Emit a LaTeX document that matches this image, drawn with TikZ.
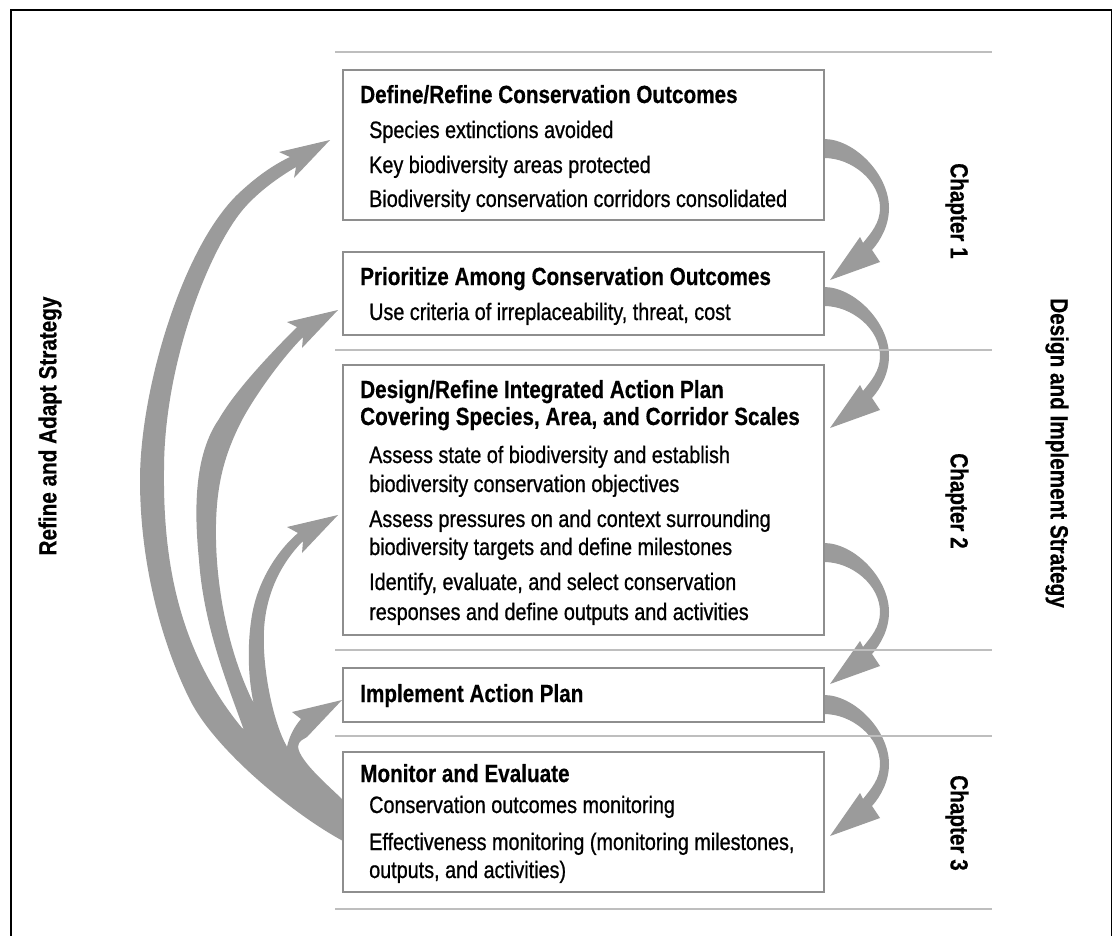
\documentclass[tikz,border=0pt]{standalone}
\usepackage{fontspec}
\setmainfont{Liberation Sans}[FakeStretch=0.835,
  UprightFeatures={FakeBold=0.8}, BoldFeatures={FakeBold=0.5}]
\usetikzlibrary{calc,backgrounds}

\definecolor{arrowgray}{HTML}{9B9B9B}
\definecolor{boxgray}{HTML}{8E8E8E}
\definecolor{rulegray}{HTML}{BEBEBE}

\tikzset{
  stage/.style={draw=boxgray, line width=1.3pt, fill=white, inner sep=0pt,
    outer sep=0pt, anchor=north west, minimum width=481pt},
  head/.style={anchor=base west, inner sep=0pt,
    font=\fontsize{24.8}{29}\selectfont\bfseries},
  item/.style={anchor=base west, inner sep=0pt,
    font=\fontsize{23.7}{28}\selectfont},
  sidelabel/.style={inner sep=0pt, font=\fontsize{24.8}{29}\selectfont\bfseries},
  divider/.style={draw=rulegray, line width=1.3pt},
  % tapered loop arrow leading from one stage down to the next
  chapterarrow/.pic={
    \fill[arrowgray] (0,0) .. controls (30,0) and (65,35) .. (65,69)
      .. controls (65,86) and (57,101) .. (48,111)
      -- (56,123) -- (6,141) -- (36,98) -- (39,104)
      .. controls (47,94) and (56,84) .. (56,69)
      .. controls (56,42) and (28,19) .. (0,19) -- cycle;
  }
}

\begin{document}
\begin{tikzpicture}[x=1pt, y=-1pt]
\useasboundingbox (0,0) rectangle (1113,935);

% outer frame
\draw[line width=1.3pt] (11,940) -- (11,10) -- (1111.5,10) -- (1111.5,940);

% dividers between chapter bands
\foreach \yy in {52,350,650,736,909}
  \draw[divider] (335,\yy) -- (992,\yy);

% stages
\node[stage, minimum height=150pt] (b1) at (343,70) {};
\node[stage, minimum height=83pt]  (b2) at (343,252) {};
\node[stage, minimum height=270pt] (b3) at (343,365) {};
\node[stage, minimum height=54pt]  (b4) at (343,668) {};
\node[stage, minimum height=140pt] (b5) at (343,752) {};

% stage texts
\node[head] (t1)  at (360,103) {Define/Refine Conservation Outcomes};
\node[item] (t1a) at (369,138) {Species extinctions avoided};
\node[item] (t1b) at (369,173) {Key biodiversity areas protected};
\node[item] (t1c) at (369,207) {Biodiversity conservation corridors consolidated};

\node[head] (t2)  at (360,285) {Prioritize Among Conservation Outcomes};
\node[item] (t2a) at (369,320) {Use criteria of irreplaceability, threat, cost};

\node[head] (t3)  at (360,398) {Design/Refine Integrated Action Plan};
\node[head] (t3x) at (360,425) {Covering Species, Area, and Corridor Scales};
\node[item] (t3a) at (369,463) {Assess state of biodiversity and establish};
\node[item] (t3b) at (369,492) {biodiversity conservation objectives};
\node[item] (t3c) at (369,527) {Assess pressures on and context surrounding};
\node[item] (t3d) at (369,555) {biodiversity targets and define milestones};
\node[item] (t3e) at (369,590) {Identify, evaluate, and select conservation};
\node[item] (t3f) at (369,620) {responses and define outputs and activities};

\node[head] (t4)  at (360,702) {Implement Action Plan};

\node[head] (t5)  at (360,782) {Monitor and Evaluate};
\node[item] (t5a) at (369,813) {Conservation outcomes monitoring};
\node[item] (t5b) at (369,850) {Effectiveness monitoring (monitoring milestones,};
\node[item] (t5c) at (369,878) {outputs, and activities)};

% side labels
\node[sidelabel, rotate=-90] (ch1) at (957,211) {Chapter 1};
\node[sidelabel, rotate=-90] (ch2) at (957,501) {Chapter 2};
\node[sidelabel, rotate=-90] (ch3) at (957,823) {Chapter 3};
\node[sidelabel, rotate=-90] (impl) at (1057,453) {Design and Implement Strategy};
\node[sidelabel, rotate=90] (adapt) at (50,426) {Refine and Adapt Strategy};

\begin{scope}[on background layer]
  % forward arrows on the right
  \pic at ($(b1.north east)+(0,69)$) {chapterarrow};
  \pic at ($(b2.north east)+(0,35)$) {chapterarrow};
  \pic at ($(b3.north east)+(0,178)$) {chapterarrow};
  \pic at ($(b4.north east)+(0,27)$) {chapterarrow};

  % feedback arrows fanning out from the monitoring stage
  % common root
  \fill[arrowgray] (343,800) .. controls (330,787) and (300,762) .. (298,747)
    -- (287,747) -- (262,702) -- (246,728) -- (250,760) -- (343,830) -- cycle;
  % back to outcomes
  \fill[arrowgray] (343,841) .. controls (293,814) and (215,750) .. (190,700)
    .. controls (160,640) and (140,560) .. (140,480)
    .. controls (140,390) and (182,248) .. (238,194)
    .. controls (256,177) and (273,165) .. (290,157)
    -- (279,152) -- (330,140) -- (294,178) -- (296,167)
    .. controls (281,176) and (263,188) .. (247,205)
    .. controls (212,242) and (164,360) .. (164,470)
    .. controls (163,560) and (178,650) .. (242,728)
    -- (280,745) -- (343,815) -- cycle;
  % back to prioritization
  \fill[arrowgray] (246,736) .. controls (230,690) and (204,630) .. (199,560)
    .. controls (194,510) and (194,455) .. (219,419)
    .. controls (235,391) and (270,354) .. (297,327)
    -- (287,322) -- (338,310) -- (302,348) -- (303,337)
    .. controls (281,359) and (251,401) .. (239,426)
    .. controls (223,459) and (215,490) .. (216,540)
    .. controls (217,590) and (228,650) .. (252,700)
    -- (262,712) -- cycle;
  % back to the action plan
  \fill[arrowgray] (256,712) .. controls (249,690) and (246,650) .. (252,615)
    .. controls (258,580) and (278,550) .. (298,533)
    -- (287,527) -- (338,515) -- (302,553) -- (303,541)
    .. controls (284,560) and (266,590) .. (264,630)
    .. controls (262,665) and (272,720) .. (287,747) -- cycle;
  % back to implementation
  \fill[arrowgray] (287,747) .. controls (289,737) and (294,727) .. (301,719)
    -- (292,712) -- (342,700) -- (307,737) -- (302,740)
    .. controls (299,742) and (298,745) .. (298,747)
    -- (298,754) -- (287,754) -- cycle;
\end{scope}
\end{tikzpicture}
\end{document}
